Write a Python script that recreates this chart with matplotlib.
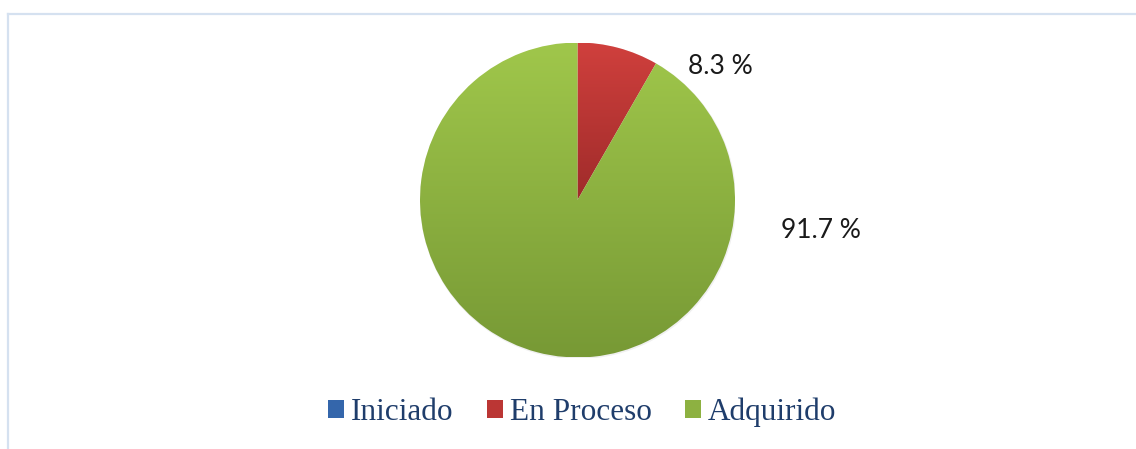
import numpy as np
import matplotlib
matplotlib.use("Agg")
import matplotlib.pyplot as plt
from matplotlib.lines import Line2D
from matplotlib.patches import Patch
from matplotlib.colors import LinearSegmentedColormap

# ---- data ----
categories = ["Iniciado", "En Proceso", "Adquirido"]
values = [0.0, 8.3, 91.7]
value_labels = ["8.3 %", "91.7 %"]
colors_top = ["#3b73ba", "#d0403d", "#a0c74b"]
colors_bottom = ["#2a5893", "#9f2b2a", "#779935"]
legend_colors = ["#3466ab", "#bb3634", "#8db141"]

W, H = 1136, 449
fig = plt.figure(figsize=(W / 100, H / 100), dpi=100)
fig.patch.set_facecolor("white")

# frame lines (top and left)
border = "#d5e1f0"
fig.add_artist(Line2D([8 / W, 1.0], [1 - 14 / H, 1 - 14 / H], transform=fig.transFigure,
                      color=border, lw=1.6))
fig.add_artist(Line2D([8 / W, 8 / W], [0, 1 - 14 / H], transform=fig.transFigure,
                      color=border, lw=1.6))

# pie axes
cx, cy, r = 577.5, 200.0, 157.5
ax = fig.add_axes([(cx - r) / W, (H - cy - r) / H, 2 * r / W, 2 * r / H])
ax.set_xlim(-1, 1)
ax.set_ylim(-1, 1)
ax.set_aspect("equal")
ax.axis("off")

# faint shadow ring
shadow = plt.Circle((0.004, -0.006), 1.004, color="#000000", alpha=0.06, lw=0, zorder=0)
ax.add_patch(shadow)

wedges, _ = ax.pie(values, startangle=90, counterclock=False, radius=1,
                   colors=colors_top, wedgeprops=dict(linewidth=0))

for w, ct, cb, v in zip(wedges, colors_top, colors_bottom, values):
    if v <= 0:
        w.set_visible(False)
        continue
    verts = w.get_path().vertices
    ymin, ymax = verts[:, 1].min(), verts[:, 1].max()
    cmap = LinearSegmentedColormap.from_list("g", [cb, ct])
    grad = np.linspace(0, 1, 256).reshape(-1, 1)
    im = ax.imshow(grad, cmap=cmap, origin="lower", aspect="auto",
                   extent=(-1, 1, ymin, ymax), zorder=2, interpolation="bilinear")
    im.set_clip_path(w)
    w.set_facecolor("none")

ax.set_xlim(-1, 1)
ax.set_ylim(-1, 1)

# value labels
lab_font = dict(family=["Lato", "DejaVu Sans"], fontsize=19, color="#1a1a1a")
ax.text((720 - cx) / r, (cy - 66.5) / r, value_labels[0], ha="center", va="center",
        clip_on=False, **lab_font)
ax.text((821 - cx) / r, (cy - 230.7) / r, value_labels[1], ha="center", va="center",
        clip_on=False, **lab_font)

# legend
handles = [Patch(facecolor=c, edgecolor="none") for c in legend_colors]
fs = 22.5
fs_px = fs * 100 / 72
leg = fig.legend(handles, categories, loc="center", bbox_to_anchor=(582 / W, 1 - 412 / H),
                 ncol=3, frameon=False,
                 prop=dict(family=["Liberation Serif", "DejaVu Serif"], size=fs),
                 handlelength=16 / fs_px, handleheight=16 / fs_px,
                 handletextpad=7 / fs_px, columnspacing=33 / fs_px,
                 borderpad=0, borderaxespad=0)
for t in leg.get_texts():
    t.set_color("#1f3d6b")

fig.savefig("out.png", dpi=100, facecolor="white")
